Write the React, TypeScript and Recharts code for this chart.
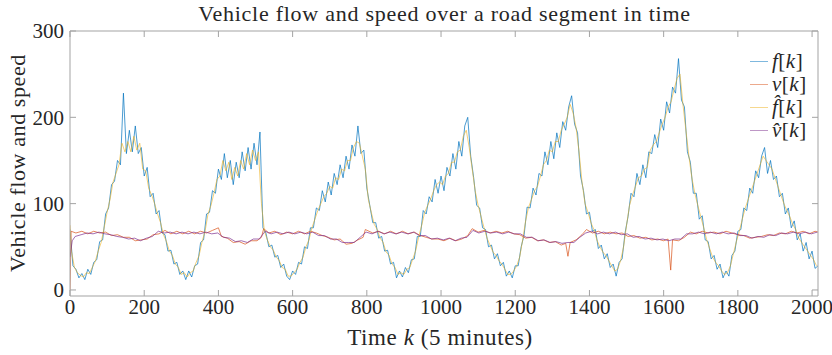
import React from 'react';
import { LineChart, Line, XAxis, YAxis } from 'recharts';

// time index step of the flow samples (5-minute slots)
const FLOW_STEP = 8;

// measured flow f[k], k = 0, 8, 16, ...
const flow = [
  70, 28, 24, 14, 19, 12, 24, 18, 32, 35, 56, 58, 88, 95, 122, 126, 150, 145, 228, 158,
  185, 160, 190, 158, 165, 132, 142, 108, 112, 88, 92, 66, 64, 45, 46, 30, 32, 18, 22, 12,
  22, 15, 28, 30, 55, 58, 88, 90, 115, 112, 140, 128, 158, 130, 150, 122, 148, 130, 160, 138,
  165, 140, 170, 145, 183, 72, 66, 50, 52, 38, 40, 26, 30, 16, 12, 22, 18, 32, 30, 50,
  48, 72, 72, 95, 92, 115, 102, 125, 110, 135, 122, 145, 130, 155, 140, 168, 155, 190, 158, 162,
  118, 98, 78, 78, 60, 62, 45, 46, 30, 32, 14, 22, 15, 26, 20, 35, 36, 62, 62, 92,
  88, 108, 102, 128, 112, 132, 115, 142, 132, 158, 140, 172, 155, 190, 200, 155, 130, 98, 95, 72,
  70, 50, 52, 36, 42, 28, 32, 16, 22, 14, 28, 28, 50, 64, 96, 95, 118, 110, 135, 132,
  160, 145, 172, 152, 182, 165, 195, 185, 212, 225, 192, 182, 132, 115, 88, 90, 68, 70, 48, 52,
  36, 42, 26, 30, 16, 32, 36, 66, 85, 112, 108, 135, 122, 145, 130, 160, 158, 180, 165, 198,
  185, 218, 205, 235, 228, 268, 220, 212, 160, 148, 112, 112, 82, 86, 58, 56, 36, 40, 24, 30,
  14, 22, 16, 40, 45, 68, 70, 95, 92, 118, 112, 138, 130, 155, 165, 135, 150, 128, 132, 108,
  112, 88, 95, 72, 80, 58, 65, 45, 55, 36, 45, 25, 28,
];

// estimated flow f^[k], k = 0, 4, 12, 20, ...
const flowHat = [
  75, 45, 26, 20, 17, 15, 20, 19, 26, 33, 45, 55, 72, 90, 105, 125, 135, 145, 170, 160,
  172, 160, 178, 162, 170, 140, 138, 118, 110, 100, 88, 78, 64, 56, 45, 40, 30, 26, 18, 20,
  15, 20, 22, 32, 40, 56, 68, 88, 98, 112, 128, 132, 150, 138, 148, 128, 142, 132, 150, 140,
  158, 145, 162, 150, 160, 100, 68, 58, 50, 46, 38, 34, 26, 24, 16, 16, 20, 24, 32, 38,
  50, 58, 72, 82, 92, 100, 108, 112, 120, 118, 130, 128, 140, 138, 150, 150, 165, 172, 170, 155,
  140, 105, 90, 76, 70, 60, 55, 44, 40, 30, 26, 18, 20, 18, 24, 26, 36, 46, 62, 75,
  90, 98, 105, 115, 122, 125, 122, 132, 135, 148, 148, 160, 162, 178, 185, 165, 140, 115, 98, 85,
  72, 60, 52, 44, 40, 34, 30, 24, 18, 18, 22, 28, 38, 58, 80, 96, 105, 115, 120, 132,
  145, 150, 162, 160, 172, 172, 185, 192, 200, 215, 205, 188, 160, 125, 100, 90, 78, 70, 58, 50,
  44, 40, 34, 28, 22, 24, 34, 50, 75, 98, 110, 120, 130, 132, 140, 142, 162, 168, 172, 182,
  192, 200, 212, 218, 232, 245, 250, 215, 185, 155, 130, 112, 98, 85, 72, 58, 48, 38, 32, 28,
  22, 18, 20, 28, 42, 56, 68, 82, 95, 105, 115, 125, 135, 145, 155, 150, 145, 140, 130, 120,
  110, 100, 92, 85, 76, 70, 60, 55, 50, 45, 40, 35, 28,
];

// measured speed v[k] as [k, value]
const speed = [
  [0, 0], [3, 68], [16, 66], [32, 68], [48, 65], [64, 68], [80, 66], [96, 67], [112, 63], [128, 64],
  [144, 61], [160, 61], [176, 57], [192, 58], [208, 59], [224, 64], [240, 65], [256, 69], [272, 65], [288, 68],
  [304, 65], [320, 68], [336, 65], [352, 68], [368, 66], [384, 69], [400, 72], [408, 62], [424, 60], [440, 55],
  [456, 56], [472, 53], [488, 57], [504, 57], [516, 61], [522, 71], [536, 66], [552, 68], [568, 64], [584, 67],
  [600, 65], [616, 68], [632, 65], [648, 68], [664, 66], [680, 63], [696, 61], [712, 58], [728, 59], [744, 53],
  [760, 54], [776, 58], [790, 61], [796, 70], [816, 66], [832, 68], [848, 65], [864, 68], [880, 65], [896, 68],
  [912, 65], [928, 67], [944, 63], [960, 61], [976, 59], [992, 59], [1008, 57], [1024, 60], [1040, 57], [1056, 59],
  [1072, 63], [1084, 71], [1100, 67], [1116, 69], [1132, 66], [1148, 68], [1164, 66], [1180, 68], [1196, 65], [1212, 64],
  [1228, 60], [1244, 61], [1260, 57], [1276, 58], [1292, 55], [1308, 56], [1324, 52], [1336, 54], [1342, 39], [1348, 55],
  [1364, 58], [1380, 64], [1392, 70], [1408, 66], [1424, 68], [1440, 65], [1456, 67], [1472, 65], [1488, 66], [1504, 62],
  [1520, 63], [1536, 60], [1552, 61], [1568, 58], [1584, 59], [1600, 57], [1612, 59], [1619, 23], [1624, 58], [1640, 57],
  [1656, 61], [1672, 67], [1688, 65], [1704, 68], [1720, 66], [1736, 67], [1752, 65], [1768, 68], [1784, 66], [1800, 64],
  [1816, 63], [1832, 60], [1848, 61], [1864, 62], [1880, 64], [1896, 63], [1912, 66], [1928, 65], [1944, 68], [1960, 66],
  [1976, 68], [1992, 65], [2008, 68], [2016, 67],
];

// estimated speed v^[k] as [k, value]
const speedHat = [
  [0, 38], [6, 57], [14, 62], [30, 64], [46, 66], [62, 65], [78, 67], [94, 65], [110, 64], [126, 62],
  [142, 61], [158, 59], [174, 60], [190, 57], [206, 60], [222, 62], [238, 68], [254, 66], [270, 67], [286, 65],
  [302, 67], [318, 65], [334, 67], [350, 65], [366, 67], [382, 65], [398, 66], [414, 61], [430, 60], [446, 56],
  [462, 57], [478, 55], [494, 59], [510, 59], [526, 68], [542, 65], [558, 67], [574, 65], [590, 67], [606, 65],
  [622, 67], [638, 65], [654, 67], [670, 63], [686, 63], [702, 59], [718, 59], [734, 55], [750, 55], [766, 55],
  [782, 61], [798, 67], [814, 65], [830, 68], [846, 65], [862, 67], [878, 65], [894, 67], [910, 65], [926, 67],
  [942, 63], [958, 63], [974, 59], [990, 60], [1006, 58], [1022, 60], [1038, 57], [1054, 60], [1070, 61], [1086, 69],
  [1102, 66], [1118, 68], [1134, 66], [1150, 67], [1166, 65], [1182, 67], [1198, 65], [1214, 65], [1230, 61], [1246, 61],
  [1262, 57], [1278, 58], [1294, 55], [1310, 56], [1326, 54], [1342, 55], [1358, 55], [1374, 61], [1390, 66], [1406, 68],
  [1422, 65], [1438, 67], [1454, 65], [1470, 67], [1486, 64], [1502, 65], [1518, 61], [1534, 62], [1550, 59], [1566, 60],
  [1582, 58], [1598, 59], [1614, 57], [1630, 59], [1646, 59], [1662, 65], [1678, 65], [1694, 67], [1710, 65], [1726, 67],
  [1742, 65], [1758, 67], [1774, 65], [1790, 66], [1806, 63], [1822, 63], [1838, 60], [1854, 62], [1870, 61], [1886, 64],
  [1902, 63], [1918, 66], [1934, 65], [1950, 67], [1966, 65], [1982, 67], [1998, 65], [2014, 67],
];

const xTicks = [0, 200, 400, 600, 800, 1000, 1200, 1400, 1600, 1800, 2000];
const yTicks = [0, 100, 200, 300];

const FONT = '"Liberation Serif", "DejaVu Serif", serif';
const AXIS = '#a3a3a3';
const TEXT = '#262626';

const COLORS = { f: '#0072BD', v: '#D95319', fh: '#EDB120', vh: '#7E2F8E' };

const flowData = flow.map((y, i) => ({ k: i * FLOW_STEP, y }));
const flowHatData = flowHat.map((y, i) => ({ k: i === 0 ? 0 : i * FLOW_STEP - 4, y }));
const speedData = speed.map(([k, y]) => ({ k, y }));
const speedHatData = speedHat.map(([k, y]) => ({ k, y }));

const legendItems = [
  { key: 'f', color: COLORS.f, sym: 'f', hat: false },
  { key: 'v', color: COLORS.v, sym: 'v', hat: false },
  { key: 'fh', color: COLORS.fh, sym: 'f', hat: true },
  { key: 'vh', color: COLORS.vh, sym: 'v', hat: true },
];

const LegendBox = () => (
  <div style={{ position: 'absolute', left: 750, top: 50, fontFamily: FONT, fontSize: 21, color: TEXT, letterSpacing: 0.5 }}>
    {legendItems.map((it) => (
      <div key={it.key} style={{ display: 'flex', alignItems: 'center', height: 23 }}>
        <span style={{ display: 'inline-block', width: 18, height: 1, background: it.color, opacity: 0.5, marginRight: 4 }} />
        <span>
          <i>{it.hat ? it.sym + '\u0302' : it.sym}</i>[<i>k</i>]
        </span>
      </div>
    ))}
  </div>
);

const noLabel = () => '';

export default function App() {
  return (
    <div style={{ position: 'absolute', left: 0, top: 0, width: 832, height: 355, background: '#fff', fontFamily: FONT }}>
      <div
        style={{
          position: 'absolute', left: 0, width: 889, top: 1, textAlign: 'center',
          fontFamily: FONT, fontSize: 22, color: TEXT, letterSpacing: 0.75, whiteSpace: 'nowrap',
        }}
      >
        Vehicle flow and speed over a road segment in time
      </div>
      <LineChart width={832} height={355} margin={{ top: 30, right: 13, bottom: 0, left: 0 }} style={{ fontFamily: FONT }}>
        <XAxis
          dataKey="k" type="number" domain={[0, 2016]} ticks={xTicks} interval={0}
          height={59} tickSize={-6} tickMargin={9} stroke={AXIS} allowDataOverflow
          tick={{ fill: TEXT, fontSize: 21, fontFamily: FONT }}
          label={() => (
            <text x={440} y={345} textAnchor="middle" fill={TEXT} fontFamily={FONT} fontSize={23} letterSpacing={0.6}>
              Time <tspan fontStyle="italic">k</tspan> (5 minutes)
            </text>
          )}
        />
        <XAxis
          xAxisId="top" orientation="top" dataKey="k" type="number" domain={[0, 2016]}
          ticks={xTicks} interval={0} height={1} tickSize={-6} stroke={AXIS}
          tickFormatter={noLabel} allowDataOverflow
        />
        <YAxis
          type="number" domain={[-7, 300]} ticks={yTicks} interval={0} width={70}
          tickSize={-6} tickMargin={12} stroke={AXIS} allowDataOverflow
          tick={{ fill: TEXT, fontSize: 21, fontFamily: FONT }}
          label={() => (
            <text x={25} y={163} transform="rotate(-90 25 163)" textAnchor="middle" fill={TEXT} fontFamily={FONT} fontSize={22} letterSpacing={0.6}>
              Vehicle flow and speed
            </text>
          )}
        />
        <YAxis
          yAxisId="right" orientation="right" type="number" domain={[-7, 300]} ticks={yTicks}
          interval={0} width={1} tickSize={-6} stroke={AXIS} tickFormatter={noLabel} allowDataOverflow
        />
        <Line data={flowData} dataKey="y" type="linear" stroke={COLORS.f} strokeWidth={1} strokeOpacity={0.7} dot={false} isAnimationActive={false} />
        <Line data={speedData} dataKey="y" type="linear" stroke={COLORS.v} strokeWidth={1} strokeOpacity={0.7} dot={false} isAnimationActive={false} />
        <Line data={flowHatData} dataKey="y" type="linear" stroke={COLORS.fh} strokeWidth={1} strokeOpacity={0.6} dot={false} isAnimationActive={false} />
        <Line data={speedHatData} dataKey="y" type="linear" stroke={COLORS.vh} strokeWidth={1} strokeOpacity={0.7} dot={false} isAnimationActive={false} />
      </LineChart>
      <LegendBox />
    </div>
  );
}
